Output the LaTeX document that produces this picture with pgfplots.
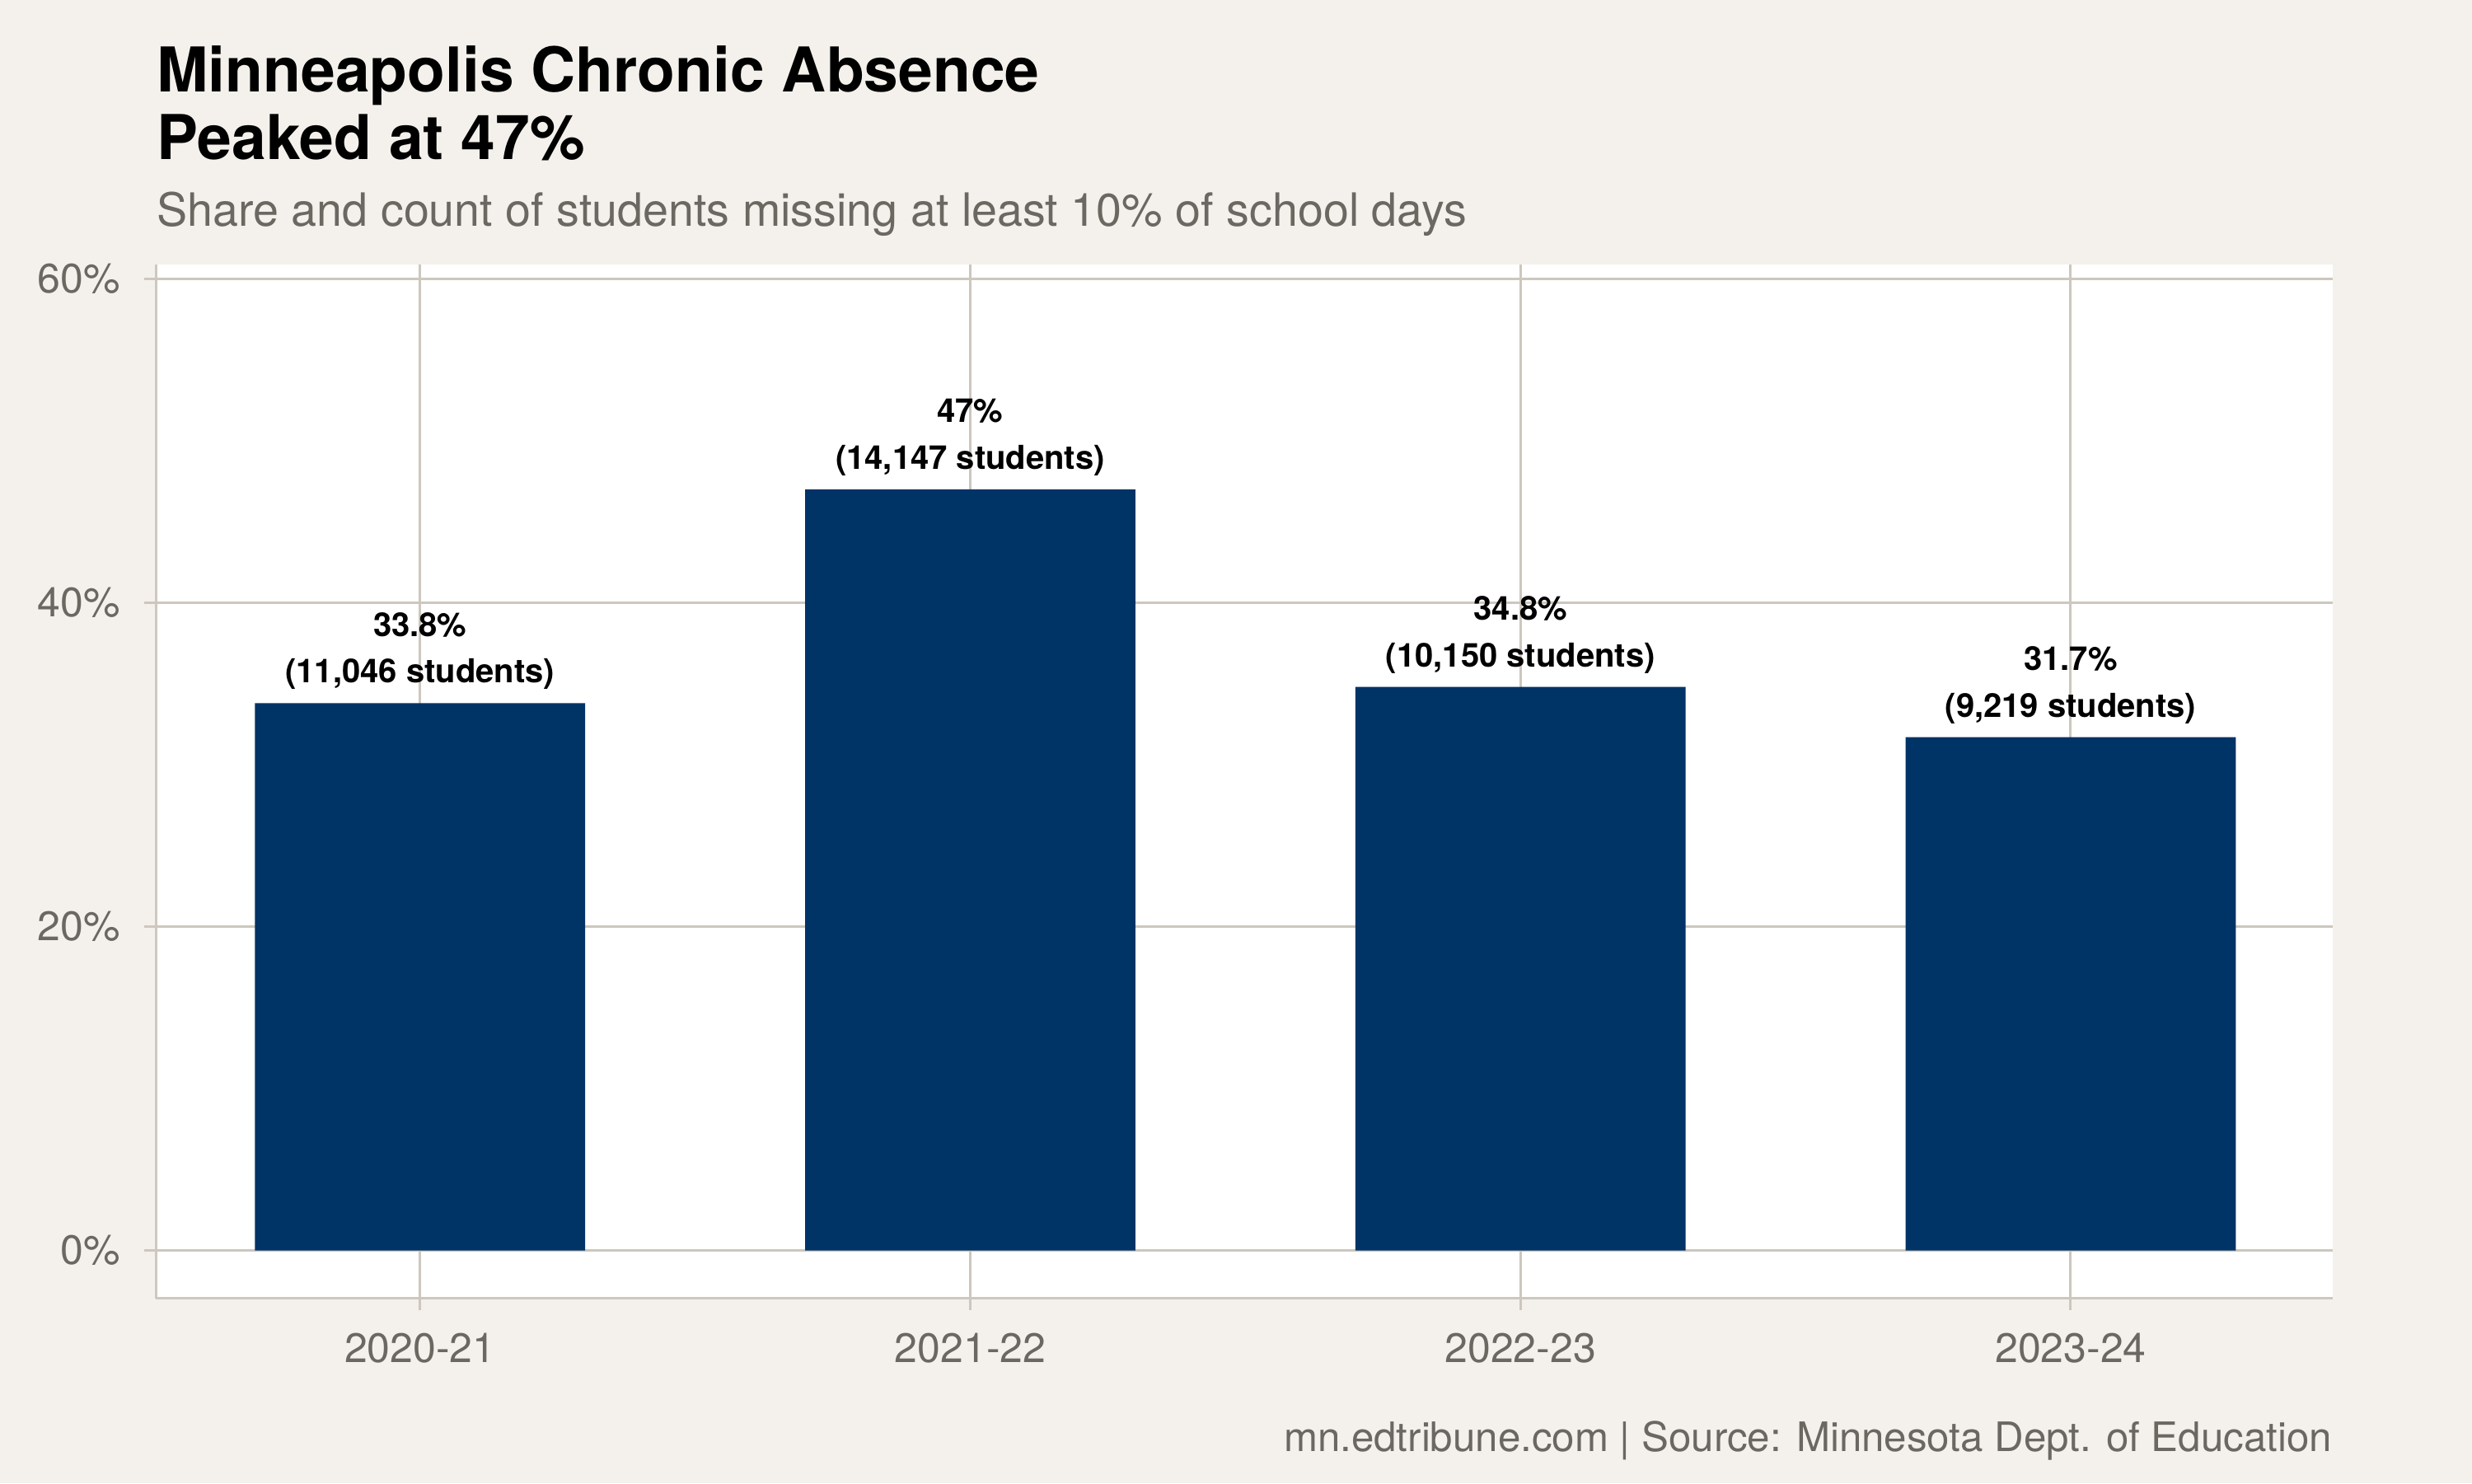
\documentclass[border=0pt]{standalone}
\usepackage{pgfplots}
\pgfplotsset{compat=1.18}
\usepackage{fontspec}
\setmainfont{TeX Gyre Heros}

\definecolor{bgbeige}{HTML}{F4F1EC}
\definecolor{gridgray}{HTML}{CDC7BD}
\definecolor{textgray}{HTML}{6B6862}
\definecolor{barnavy}{HTML}{003366}

\begin{document}
\begin{tikzpicture}
\fill[bgbeige] (0,0) rectangle (600pt,360pt);
\path[use as bounding box] (0,0) rectangle (600pt,360pt);

% titles
\node[anchor=base west, inner sep=0pt, font=\bfseries\fontsize{15}{18}\selectfont]
  at (37.9pt,337.7pt) {Minneapolis Chronic Absence};
\node[anchor=base west, inner sep=0pt, font=\bfseries\fontsize{15}{18}\selectfont]
  at (37.9pt,321.3pt) {Peaked at 47\%};
\node[anchor=base west, inner sep=0pt, text=textgray, font=\fontsize{11.13}{13}\selectfont]
  at (37.9pt,305.2pt) {Share and count of students missing at least 10\% of school days};

\begin{axis}[
    at={(37.86pt,44.86pt)}, anchor=south west,
    scale only axis,
    width=528.3pt, height=251pt,
    xmin=-0.48, xmax=3.476,
    ymin=-2.95, ymax=60.9,
    axis background/.style={fill=white},
    axis lines=left,
    axis line style={gridgray, line width=0.6pt, -},
    xtick={0,1,2,3},
    xticklabels={2020-21,2021-22,2022-23,2023-24},
    ytick={0,20,40,60},
    yticklabels={0\%,20\%,40\%,60\%},
    grid=major,
    major grid style={gridgray, line width=0.6pt},
    tick style={gridgray, line width=0.6pt},
    tick align=outside,
    major tick length=2.8pt,
    ticklabel style={font=\fontsize{10}{12}\selectfont, text=textgray},
    xticklabel style={yshift=-2.1pt},
    yticklabel style={xshift=-2.4pt},
    ybar,
    bar width=0.6,
    nodes near coords,
    point meta=explicit symbolic,
    every node near coord/.append style={
        font=\bfseries\fontsize{8}{11.3}\selectfont,
        text=black, align=center, anchor=south,
        inner sep=0pt, yshift=3.1pt},
]
\addplot[fill=barnavy, draw=none] coordinates {
    (0,33.8) [{33.8\%\\(11,046 students)}]
    (1,47.0) [{47\%\\(14,147 students)}]
    (2,34.8) [{34.8\%\\(10,150 students)}]
    (3,31.7) [{31.7\%\\(9,219 students)}]
};
\end{axis}

\node[anchor=base east, inner sep=0pt, text=textgray, font=\fontsize{9.85}{12}\selectfont]
  at (566.2pt,7.67pt) {mn.edtribune.com | Source: Minnesota Dept. of Education};
\end{tikzpicture}
\end{document}
